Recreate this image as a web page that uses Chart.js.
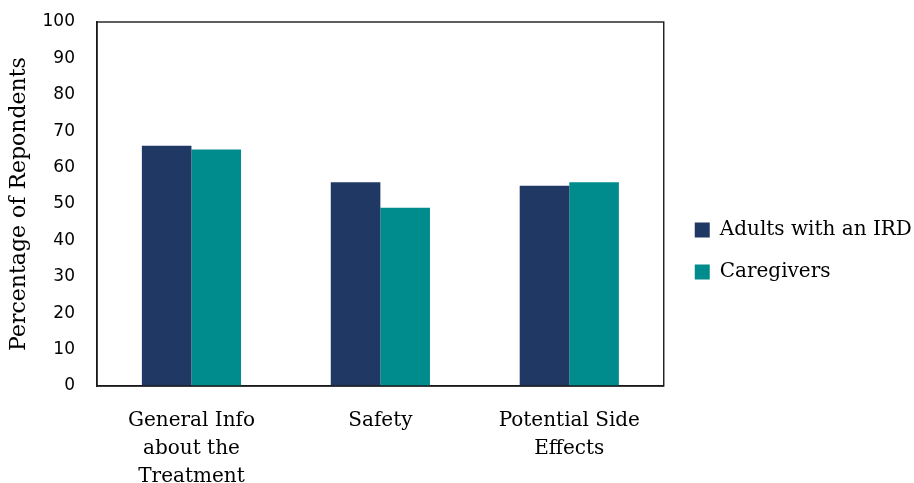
<!DOCTYPE html>
<html>
<head>
<meta charset="utf-8">
<script src="https://cdn.jsdelivr.net/npm/chart.js@4/dist/chart.umd.min.js"></script>
<style>
  html, body { margin: 0; padding: 0; background: #ffffff; }
  #wrap { width: 914px; height: 483px; position: relative; }
</style>
</head>
<body>
<div id="wrap"><canvas id="chart"></canvas></div>
<script>
// Survey topics and respondent shares (%)
const categories = [
  ["General Info", "about the", "Treatment"],
  ["Safety"],
  ["Potential Side", "Effects"]
];
const seriesNames = ["Adults with an IRD", "Caregivers"];
const adultsValues = [66, 56, 55];
const caregiverValues = [65, 49, 56];
const yTicks = [0, 10, 20, 30, 40, 50, 60, 70, 80, 90, 100];

const NAVY = "#1F3864";
const TEAL = "#008C8C";
const SERIF = "'DejaVu Serif', 'Liberation Serif', serif";
const SANS = "'DejaVu Sans', 'Open Sans', sans-serif";

// Frame the whole plotting area with a thin dark box
const plotFrame = {
  id: "plotFrame",
  afterDatasetsDraw(chart) {
    const { ctx, chartArea: a } = chart;
    ctx.save();
    ctx.strokeStyle = "#1a1a1a";
    ctx.lineWidth = 1.4;
    ctx.strokeRect(a.left, a.top, a.right - a.left, a.bottom - a.top);
    ctx.restore();
  }
};

// Place the legend a little right of the plot and lower down;
// its box runs to the canvas edge so the labels are not clipped
const legendPlacement = {
  id: "legendPlacement",
  afterLayout(chart) {
    const lg = chart.legend;
    if (!lg) return;
    const h = lg.height;
    lg.left = chart.chartArea.right + 9;
    lg.right = chart.width;
    lg.width = lg.right - lg.left;
    lg.top = 198;
    lg.bottom = lg.top + h;
  }
};

new Chart(document.getElementById("chart"), {
  type: "bar",
  data: {
    labels: categories,
    datasets: [
      { label: seriesNames[0], data: adultsValues, backgroundColor: NAVY, borderWidth: 0 },
      { label: seriesNames[1], data: caregiverValues, backgroundColor: TEAL, borderWidth: 0 }
    ]
  },
  options: {
    responsive: true,
    maintainAspectRatio: false,
    animation: false,
    devicePixelRatio: 1,
    categoryPercentage: 0.525,
    barPercentage: 1.0,
    layout: { padding: { top: 22, right: 29, left: 0, bottom: 0 } },
    plugins: {
      tooltip: { enabled: false },
      legend: {
        position: "right",
        align: "start",
        labels: {
          boxWidth: 15,
          boxHeight: 15,
          padding: 22,
          color: "#000000",
          font: { family: SERIF, size: 20 }
        }
      }
    },
    scales: {
      x: {
        grid: { display: false, drawTicks: false },
        border: { display: true, color: "#1a1a1a", width: 1.4 },
        ticks: {
          color: "#000000",
          padding: 21,
          maxRotation: 0,
          autoSkip: false,
          font: { family: SERIF, size: 20, lineHeight: 1.4 }
        },
        afterFit(scale) { scale.height = 97; }
      },
      y: {
        min: 0,
        max: 100,
        afterBuildTicks(scale) { scale.ticks = yTicks.map(v => ({ value: v })); },
        grid: { display: false, drawTicks: true, tickLength: 20 },
        border: { display: true, color: "#1a1a1a", width: 1.4 },
        ticks: {
          color: "#000000",
          padding: 2,
          font: { family: SANS, size: 17 }
        },
        title: {
          display: true,
          text: "Percentage of Repondents",
          color: "#000000",
          padding: { top: 6, bottom: 0 },
          font: { family: SERIF, size: 22 }
        },
        afterFit(scale) { scale.width = 97; }
      }
    }
  },
  plugins: [plotFrame, legendPlacement]
});
</script>
</body>
</html>
